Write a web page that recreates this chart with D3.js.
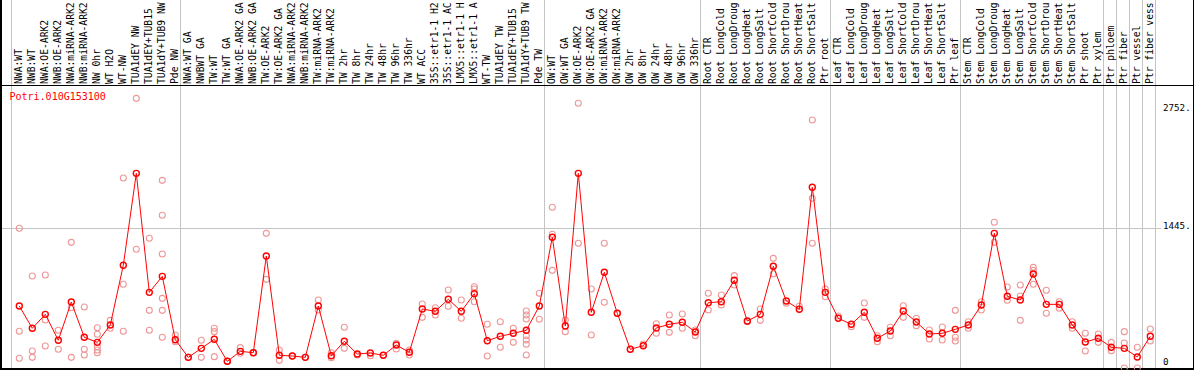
<!DOCTYPE html>
<html>
  <head>
    <title>Potri.010G153100</title>
    <script src="https://cdn.jsdelivr.net/npm/d3@7/dist/d3.min.js"></script>
    <style>
      body { margin: 0; background: #fff; }
    </style>
  </head>
  <body>
    <svg width="1194" height="370" id="mainsvg"></svg>
    <script>
      const geneName = "Potri.010G153100";

      const categories = [
        "NWA:WT", "NWB:WT", "NWA:OE-ARK2", "NWB:OE-ARK2", "NWA:miRNA-ARK2", "NWB:miRNA-ARK2",
        "NW 0hr", "WT H2O", "WT-NW", "TUA1dEY NW", "TUA1dEY+TUB15 NW", "TUA1dY+TUB9 NW", "Pde NW",
        "NWA:WT GA", "NWBWT GA", "TW:WT", "TW:WT GA", "NWA:OE-ARK2 GA", "NWB:OE-ARK2 GA",
        "TW:OE-ARK2", "TW:OE-ARK2 GA", "NWA:miRNA-ARK2 GA", "NWB:miRNA-ARK2 GA", "TW:miRNA-ARK2",
        "TW:miRNA-ARK2 GA", "TW 2hr", "TW 8hr", "TW 24hr", "TW 48hr", "TW 96hr", "TW 336hr",
        "WT ACC", "35S::etr1-1 H2O", "35S::etr1-1 ACC", "LMX5::etr1-1 H2O", "LMX5::etr1-1 ACC",
        "WT-TW", "TUA1dEY TW", "TUA1dEY+TUB15 TW", "TUA1dY+TUB9 TW", "Pde TW",
        "OW:WT", "OW:WT GA", "OW:OE-ARK2", "OW:OE-ARK2 GA", "OW:miRNA-ARK2", "OW:miRNA-ARK2 GA",
        "OW 2hr", "OW 8hr", "OW 24hr", "OW 48hr", "OW 96hr", "OW 336hr",
        "Root CTR", "Root LongCold", "Root LongDrought", "Root LongHeat", "Root LongSalt",
        "Root ShortCold", "Root ShortDrought", "Root ShortHeat", "Root ShortSalt", "Ptr root",
        "Leaf CTR", "Leaf LongCold", "Leaf LongDrought", "Leaf LongHeat", "Leaf LongSalt",
        "Leaf ShortCold", "Leaf ShortDrought", "Leaf ShortHeat", "Leaf ShortSalt", "Ptr leaf",
        "Stem CTR", "Stem LongCold", "Stem LongDrought", "Stem LongHeat", "Stem LongSalt",
        "Stem ShortCold", "Stem ShortDrought", "Stem ShortHeat", "Stem ShortSalt", "Ptr shoot", "Ptr xylem",
        "Ptr phloem", "Ptr fiber", "Ptr vessel", "Ptr fiber vessel"
      ];

      // index where each experiment group starts (plus the end)
      const groupBreaks = [0, 13, 41, 53, 63, 73, 84, 85, 86, 87, 88];

      const meanValues = [
        640, 410, 554, 286, 681, 317, 265, 444, 1060, 2009, 781, 946, 292,
        110, 203, 296, 69, 172, 158, 1156, 131, 124, 110, 640, 127, 276, 144, 155, 131, 237, 162,
        609, 585, 709, 585, 767, 282, 327, 358, 389, 640,
        1349, 433, 2009, 575, 988, 565, 193, 230, 413, 451, 472, 372,
        674, 684, 905, 485, 554, 1050, 691, 606, 1865, 781,
        513, 451, 575, 307, 382, 588, 475, 351, 358, 399,
        444, 650, 1390, 740, 702, 970, 657, 657, 444, 268, 307,
        214, 203, 114, 327
      ];

      const replicateValues = [
        [1442, 379, 100], [950, 175, 110], [960, 495, 227], [389, 193], [1297, 622, 110],
        [630, 193, 134], [416, 348, 220, 186, 158], [492, 410], [1961, 864, 379], [2783, 1225],
        [1339, 595, 389], [1937, 1576, 1177, 719, 595, 317], [341, 271],
        [110, 110], [286, 110], [410, 375, 117], [69, 69], [210, 152], [158, 158], [1390, 915],
        [186, 79], [124], [110], [702, 599], [158, 106], [420, 203], [134], [127], [131],
        [255, 196], [186, 134],
        [661, 523], [622, 547], [805, 637], [702, 513], [839, 815, 684], [451, 124], [478, 214],
        [410, 265], [588, 547, 506, 333, 289, 245, 134], [771, 503],
        [1659, 1380, 1008], [495, 375], [2732, 1287], [815, 341], [1287, 678], [565], [193], [248],
        [457, 358], [547, 368], [557, 410], [392, 333],
        [771, 599], [753, 650], [953, 857], [478], [609, 492], [1132, 973], [668], [637],
        [2560, 1751, 1287], [815, 736],
        [537], [426], [671, 523], [333, 271], [420, 333], [643, 523], [513, 437], [392, 299],
        [423, 289], [595, 317, 279],
        [478, 410], [684, 599], [1504, 1297], [836, 699], [857, 743, 492], [1039, 1008, 864],
        [802, 565], [684, 616], [478, 410], [358, 175], [351, 265],
        [265, 179], [375, 258, 0], [214, 0], [403, 279]
      ];

      const yTicks = [2752, 1445, 0];
      const yMax = 2890;

      const svg = d3.select("#mainsvg");
      const width = +svg.attr("width");
      const height = +svg.attr("height");
      const headerH = 85.5; // label strip on top
      const plotLeft = 11, plotRight = 1155, plotBottom = 368;
      const maxLabelChars = 14; // the header strip only fits this many

      const xScale = d3.scaleBand()
        .domain(d3.range(categories.length))
        .range([plotLeft, plotRight]);
      const xPos = (i) => xScale(i) + 8.3; // markers sit a little right of the band middle

      const yScale = d3.scaleLinear()
        .domain([0, yMax])
        .range([plotBottom, 88]);

      svg.append("defs").append("clipPath").attr("id", "plotclip")
        .append("rect")
        .attr("x", 2).attr("y", headerH + 0.5)
        .attr("width", plotRight - 2).attr("height", plotBottom - headerH + 1);

      // grid: group separators and the mid line
      svg.append("g").selectAll("line")
        .data(groupBreaks)
        .join("line")
        .attr("x1", (k) => (k < categories.length ? xScale(k) : plotRight) + 0.5)
        .attr("x2", (k) => (k < categories.length ? xScale(k) : plotRight) + 0.5)
        .attr("y1", 0).attr("y2", height)
        .attr("stroke", "#c4c4c4").attr("stroke-width", 1);

      svg.append("line")
        .attr("x1", 2).attr("x2", 1161)
        .attr("y1", Math.round(yScale(1445)) + 0.5).attr("y2", Math.round(yScale(1445)) + 0.5)
        .attr("stroke", "#c4c4c4").attr("stroke-width", 1);

      // rotated sample labels
      svg.append("g").selectAll("text")
        .data(categories)
        .join("text")
        .attr("transform", (d, i) => `translate(${xPos(i) + 2.6}, 84) rotate(-90)`)
        .attr("font-family", "DejaVu Sans Mono, monospace")
        .attr("font-size", "9.7px")
        .attr("fill", "#000")
        .text((d) => d.slice(0, maxLabelChars));

      // frame
      svg.append("line").attr("x1", 0).attr("x2", width).attr("y1", headerH).attr("y2", headerH)
        .attr("stroke", "#000").attr("stroke-width", 1);
      svg.append("line").attr("x1", 1).attr("x2", 1).attr("y1", 0).attr("y2", height)
        .attr("stroke", "#000").attr("stroke-width", 2);
      svg.append("line").attr("x1", 1193.5).attr("x2", 1193.5).attr("y1", 0).attr("y2", height)
        .attr("stroke", "#000").attr("stroke-width", 1);
      svg.append("line").attr("x1", 0).attr("x2", width).attr("y1", 369).attr("y2", 369)
        .attr("stroke", "#000").attr("stroke-width", 2);

      const plot = svg.append("g").attr("clip-path", "url(#plotclip)");

      // replicates
      const reps = [];
      replicateValues.forEach((vals, i) => vals.forEach((v) => reps.push({ i, v })));
      plot.append("g").selectAll("circle")
        .data(reps)
        .join("circle")
        .attr("cx", (d) => xPos(d.i))
        .attr("cy", (d) => yScale(d.v))
        .attr("r", 3)
        .attr("fill", "none")
        .attr("stroke", "#ee9797")
        .attr("stroke-width", 1.1);

      // mean line
      const line = d3.line()
        .x((d, i) => xPos(i))
        .y((d) => yScale(d));
      plot.append("path")
        .datum(meanValues)
        .attr("d", line)
        .attr("fill", "none")
        .attr("stroke", "#ff0000")
        .attr("stroke-width", 1);

      plot.append("g").selectAll("circle")
        .data(meanValues)
        .join("circle")
        .attr("cx", (d, i) => xPos(i))
        .attr("cy", (d) => yScale(d))
        .attr("r", 3)
        .attr("fill", "none")
        .attr("stroke", "#ff0000")
        .attr("stroke-width", 1.4);

      // y values on the right
      const tickDy = (t) => (t === yTicks[0] ? 9.6 : t === 0 ? -3 : 0.5);
      svg.append("g").selectAll("text")
        .data(yTicks)
        .join("text")
        .attr("x", 1163)
        .attr("y", (d) => yScale(d) + tickDy(d))
        .attr("font-family", "DejaVu Sans Mono, monospace")
        .attr("font-size", "9.2px")
        .attr("fill", "#000")
        .text((d) => (d === 0 ? "0" : d + "."));

      svg.append("text")
        .text(geneName)
        .attr("x", 9.5)
        .attr("y", 100)
        .attr("font-family", "DejaVu Sans Mono, monospace")
        .attr("font-size", "10px")
        .attr("fill", "#ff0000");
    </script>
  </body>
</html>
